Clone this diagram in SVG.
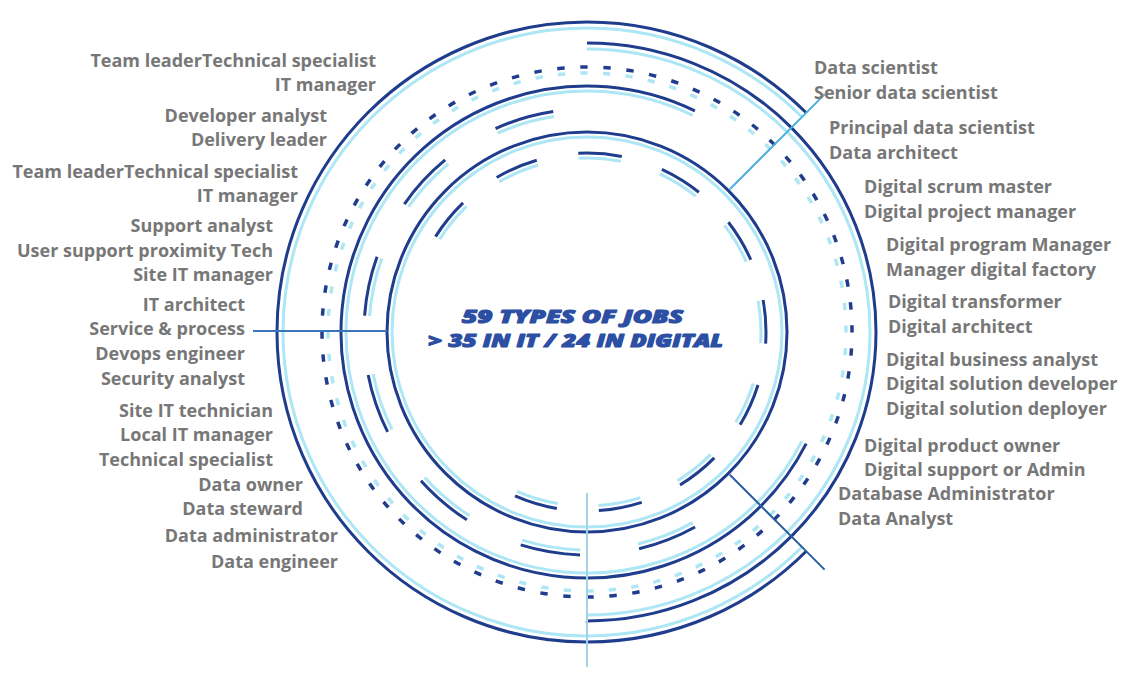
<svg xmlns="http://www.w3.org/2000/svg" width="1135" height="676" viewBox="0 0 1135 676">
  <style>
    .lbl { font-family: "Open Sans", "Liberation Sans", sans-serif; font-weight: 700; font-size: 18px; fill: #777777; }
    .end { text-anchor: end; }
    .title { font-family: "Open Sans", "Liberation Sans", sans-serif; font-weight: 800; font-style: italic; font-size: 18px; fill: #2c4fa3; stroke: #2c4fa3; stroke-width: 1.1; stroke-linejoin: round; }
    .dk { fill: none; stroke: #1f3d8c; stroke-width: 3; }
    .lt { fill: none; stroke: #ade6f4; stroke-width: 3; }
    .dot-dk { fill: none; stroke: #1f3d8c; stroke-width: 3.5; }
    .dot-lt { fill: none; stroke: #ade6f4; stroke-width: 3.5; }
  </style>
  <rect width="1135" height="676" fill="#ffffff"/>

  <!-- concentric tracks, centred on (587, 332); each dark track has a pale twin just inside -->
  <g id="rings">
    <!-- outer track: open on the right between -45deg and +45deg -->
    <circle class="lt" cx="587" cy="332" r="304" pathLength="360" stroke-dasharray="270 90" transform="rotate(45 587 332)"/>
    <circle class="dk" cx="587" cy="332" r="310" pathLength="360" stroke-dasharray="270 90" transform="rotate(45 587 332)"/>
    <!-- right half track -->
    <circle class="lt" cx="587" cy="332" r="283" pathLength="360" stroke-dasharray="180 180" transform="rotate(-90 587 332)"/>
    <circle class="dk" cx="587" cy="332" r="289" pathLength="360" stroke-dasharray="180 180" transform="rotate(-90 587 332)"/>
    <!-- dotted track -->
    <circle class="dot-lt" cx="587" cy="332" r="259" pathLength="360" stroke-dasharray="1.6 3.4" transform="rotate(-1.45 587 332)"/>
    <circle class="dot-dk" cx="587" cy="332" r="265" pathLength="360" stroke-dasharray="1.6 3.4" transform="rotate(-1.45 587 332)"/>
    <!-- middle track, open on the upper right -->
    <circle class="lt" cx="587" cy="332" r="241" pathLength="360" stroke-dasharray="269 91" transform="rotate(27 587 332)"/>
    <circle class="dk" cx="587" cy="332" r="246" pathLength="360" stroke-dasharray="269 91" transform="rotate(27 587 332)"/>
    <!-- dashed track, seven segments -->
    <circle class="lt" cx="587" cy="332" r="218" pathLength="360" stroke-dasharray="15.5 15.3 15.5 15.3 15.5 15.3 15.5 15.3 15.5 15.3 15.5 15.3 15.5 159.7" transform="rotate(61 587 332)"/>
    <circle class="dk" cx="587" cy="332" r="223" pathLength="360" stroke-dasharray="15.5 15.3 15.5 15.3 15.5 15.3 15.5 15.3 15.5 15.3 15.5 15.3 15.5 159.7" transform="rotate(61 587 332)"/>
    <!-- full inner track -->
    <circle class="lt" cx="587" cy="332" r="195"/>
    <circle class="dk" cx="587" cy="332" r="200"/>
    <!-- innermost dashed track, ten segments -->
    <circle class="lt" cx="587" cy="332" r="174" pathLength="360" stroke-dasharray="14 13.5 14 13.5 14 13.5 14 13.5 14 13.5 14 13.5 14 13.5 14 13.5 14 13.5 14 98.5" transform="rotate(212.2 587 332)"/>
    <circle class="dk" cx="587" cy="332" r="179" pathLength="360" stroke-dasharray="14 13.5 14 13.5 14 13.5 14 13.5 14 13.5 14 13.5 14 13.5 14 13.5 14 13.5 14 98.5" transform="rotate(212.2 587 332)"/>
  </g>

  <!-- radial dividers between the job families -->
  <g id="connectors" fill="none" stroke-width="2">
    <line x1="729.8" y1="189.2" x2="824.6" y2="94.4" stroke="#4db0d8"/>
    <line x1="729.8" y1="474.8" x2="824.6" y2="569.6" stroke="#2b5e9e"/>
    <line x1="253" y1="331" x2="387" y2="331" stroke="#3b74b9"/>
    <line x1="587" y1="493" x2="587" y2="667" stroke="#a3d2e4"/>
  </g>

  <g id="center-title">
    <text class="title" x="462" y="322.5" textLength="221" lengthAdjust="spacingAndGlyphs">59 TYPES OF JOBS</text>
    <text class="title" x="428" y="346.5" textLength="295" lengthAdjust="spacingAndGlyphs">&gt; 35 IN IT / 24 IN DIGITAL</text>
  </g>

  <g id="it-management" class="lbl end">
    <text x="376" y="67">Team leaderTechnical specialist</text>
    <text x="376" y="91">IT manager</text>
    <text x="327" y="122">Developer analyst</text>
    <text x="327" y="146">Delivery leader</text>
    <text x="298" y="178">Team leaderTechnical specialist</text>
    <text x="298" y="202">IT manager</text>
    <text x="273" y="232">Support analyst</text>
    <text x="273" y="257">User support proximity Tech</text>
    <text x="273" y="281">Site IT manager</text>
    <text x="245" y="311">IT architect</text>
    <text x="245" y="335">Service &amp; process</text>
  </g>

  <g id="it-infrastructure" class="lbl end">
    <text x="245" y="360">Devops engineer</text>
    <text x="245" y="385">Security analyst</text>
    <text x="273" y="417">Site IT technician</text>
    <text x="273" y="441">Local IT manager</text>
    <text x="273" y="466">Technical specialist</text>
  </g>

  <g id="data-governance" class="lbl end">
    <text x="303" y="491">Data owner</text>
    <text x="303" y="515">Data steward</text>
    <text x="338" y="542">Data administrator</text>
    <text x="338" y="568">Data engineer</text>
  </g>

  <g id="data-science" class="lbl">
    <text x="814" y="74">Data scientist</text>
    <text x="814" y="99">Senior data scientist</text>
    <text x="829" y="134">Principal data scientist</text>
    <text x="829" y="159">Data architect</text>
  </g>

  <g id="digital" class="lbl">
    <text x="864" y="193">Digital scrum master</text>
    <text x="864" y="218">Digital project manager</text>
    <text x="886" y="251">Digital program Manager</text>
    <text x="886" y="276">Manager digital factory</text>
    <text x="888" y="308">Digital transformer</text>
    <text x="888" y="333">Digital architect</text>
    <text x="886" y="366">Digital business analyst</text>
    <text x="886" y="390">Digital solution developer</text>
    <text x="886" y="415">Digital solution deployer</text>
    <text x="864" y="452">Digital product owner</text>
    <text x="864" y="476">Digital support or Admin</text>
  </g>

  <g id="data-operations" class="lbl">
    <text x="838" y="500">Database Administrator</text>
    <text x="838" y="525">Data Analyst</text>
  </g>
</svg>
